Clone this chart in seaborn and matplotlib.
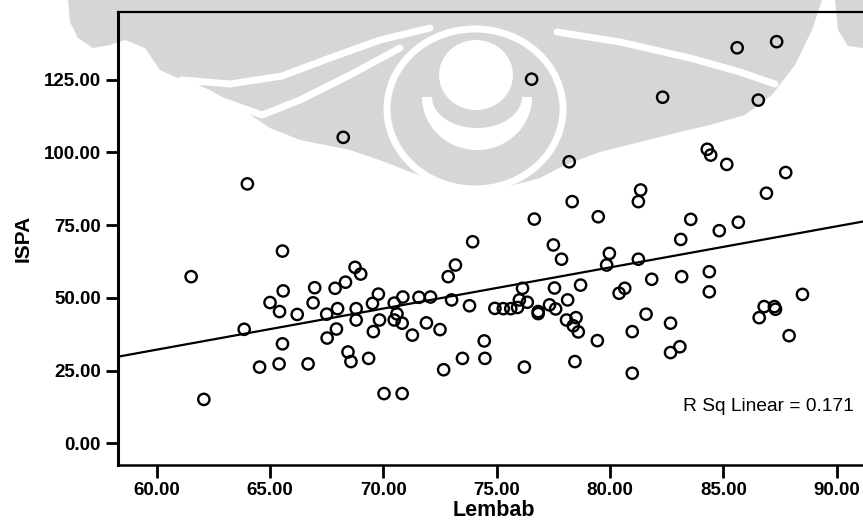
import numpy as np
import pandas as pd
import matplotlib
matplotlib.use("Agg")
import matplotlib.pyplot as plt
import seaborn as sns
from matplotlib.patches import Polygon, Ellipse

# ---------------- data ----------------
lembab = [
    64.0, 65.55, 76.54, 68.23, 78.2, 78.33, 76.66, 73.94, 77.5, 85.61,
    87.35, 82.32, 86.54, 84.29, 84.44, 85.15, 87.75, 86.9, 81.35, 81.25,
    79.48, 83.56, 85.66, 84.82, 83.12, 79.97, 79.85, 81.25, 78.7, 81.84,
    83.16, 84.38, 84.38, 80.65, 80.40, 81.59, 80.98, 82.67, 83.08, 82.67,
    80.98, 79.44, 78.45, 78.6, 78.5, 78.08, 78.38, 86.8, 87.25, 87.3,
    86.58, 88.49, 87.9,
    61.52, 63.86, 65.0, 65.58, 65.42, 66.2, 65.55, 65.4, 64.54, 62.08,
    66.97, 66.9, 66.68, 67.87, 68.33, 68.75, 69.0, 67.5, 67.98, 67.93,
    67.52, 68.8, 68.8, 68.44, 68.57, 69.35, 69.52, 69.78, 69.83, 69.56,
    70.03, 70.83, 70.48, 70.86, 70.6, 70.48, 70.83, 71.28, 71.57, 72.08,
    71.9, 72.5, 73.01, 73.18, 72.86, 73.8, 72.66, 73.49, 74.45, 74.48,
    74.92, 75.29, 75.62, 75.92, 76.0, 76.14, 76.35, 76.83, 76.83, 76.22,
    77.55, 77.33, 77.6, 78.13, 77.86,
]
ispa = [
    89.2, 66.1, 125.2, 105.2, 96.8, 83.1, 77.1, 69.3, 68.2, 136.0,
    138.1, 119.0, 118.0, 101.1, 99.1, 95.9, 93.1, 86.0, 87.1, 83.1,
    77.9, 77.0, 76.0, 73.1, 70.1, 65.3, 61.3, 63.3, 54.4, 56.4,
    57.3, 59.0, 52.1, 53.3, 51.6, 44.4, 38.4, 41.3, 33.2, 31.2,
    24.1, 35.3, 28.1, 38.3, 43.2, 42.4, 40.4, 47.0, 47.0, 46.1,
    43.2, 51.2, 37.0,
    57.3, 39.2, 48.4, 52.4, 45.3, 44.3, 34.2, 27.3, 26.2, 15.1,
    53.5, 48.3, 27.3, 53.3, 55.4, 60.5, 58.2, 44.4, 46.3, 39.3,
    36.2, 46.3, 42.4, 31.4, 28.1, 29.2, 48.1, 51.3, 42.4, 38.4,
    17.1, 17.1, 48.2, 50.3, 44.5, 42.4, 41.3, 37.2, 50.2, 50.3,
    41.4, 39.1, 49.3, 61.3, 57.3, 47.3, 25.3, 29.2, 35.2, 29.2,
    46.4, 46.3, 46.3, 46.7, 49.3, 53.3, 48.5, 45.3, 44.6, 26.2,
    53.4, 47.6, 46.2, 49.3, 63.3,
]
x_ticks = [60, 65, 70, 75, 80, 85, 90]
y_ticks = [0, 25, 50, 75, 100, 125]
x_label = "Lembab"
y_label = "ISPA"
r2_text = "R Sq Linear = 0.171"

df = pd.DataFrame({"Lembab": lembab, "ISPA": ispa})

# ---------------- figure ----------------
sns.set_theme(style="white")
plt.rcParams["font.family"] = ["Liberation Sans", "DejaVu Sans"]
plt.rcParams["text.color"] = "black"
plt.rcParams["axes.labelcolor"] = "black"
plt.rcParams["xtick.color"] = "black"
plt.rcParams["ytick.color"] = "black"

W, H = 863, 522
fig = plt.figure(figsize=(W / 100, H / 100), dpi=100)

# background watermark (decoration, in pixel coordinates)
wax = fig.add_axes([0, 0, 1, 1], zorder=0)
wax.set_xlim(0, W)
wax.set_ylim(H, 0)
wax.axis("off")
gray = "#d6d6d6"
body = [(68, 0), (822, 0), (812, 30), (795, 65), (772, 95), (745, 115),
        (710, 125), (680, 132), (640, 142), (600, 152), (565, 165),
        (540, 178), (510, 186), (478, 188), (445, 184), (410, 172),
        (385, 162), (350, 150), (300, 140), (270, 128), (240, 108),
        (210, 90), (182, 80), (160, 70), (145, 48), (125, 40), (110, 45),
        (93, 48), (78, 38), (70, 22)]
wax.add_patch(Polygon(body, closed=True, fc=gray, ec="none"))
wax.add_patch(Polygon([(835, 0), (863, 0), (863, 48), (848, 46), (838, 30)],
                      closed=True, fc=gray, ec="none"))
# white stripes
wax.plot([557, 620, 690, 740, 775], [32, 42, 58, 72, 84], color="white", lw=5,
         solid_capstyle="round")
wax.plot([430, 380, 330, 282, 230, 182], [28, 40, 58, 76, 84, 80], color="white",
         lw=5, solid_capstyle="round")
wax.plot([400, 350, 300, 262, 220, 182], [48, 75, 100, 115, 100, 80], color="white",
         lw=5, solid_capstyle="round")
# ring
wax.add_patch(Ellipse((475, 109), 176, 160, fc=gray, ec="white", lw=5))
wax.add_patch(Ellipse((476, 75), 74, 70, fc="white", ec="none"))
t = np.linspace(0, np.pi, 60)
outer = np.c_[477 + 55 * np.cos(t), 97 + 53 * np.sin(t)]
inner = np.c_[477 + 45 * np.cos(t[::-1]), 97 + 31 * np.sin(t[::-1])]
wax.add_patch(Polygon(np.vstack([outer, inner]), closed=True, fc="white", ec="none"))

# main axes
left_px, right_px, top_px, bottom_px = 117.7, 863, 12, 465
ax_h = bottom_px - top_px
ax = fig.add_axes([left_px / W, 1 - bottom_px / H,
                   (right_px - left_px) / W, ax_h / H], zorder=1)
ax.set_facecolor("none")
ax.set_xlim(58.28, 91.16)
ax.set_ylim(-7.46, 148.3)

sns.regplot(data=df, x="Lembab", y="ISPA", ax=ax, ci=None, truncate=False,
            scatter_kws=dict(s=66, facecolors="none", edgecolors="black",
                             linewidths=1.7, alpha=1, zorder=3),
            line_kws=dict(color="black", lw=1.6, zorder=2))
ax.set_xlim(58.28, 91.16)
ax.set_ylim(-7.46, 148.3)

ax.set_xticks(x_ticks)
ax.set_xticklabels([f"{v:.2f}" for v in x_ticks])
ax.set_yticks(y_ticks)
ax.set_yticklabels([f"{v:.2f}" for v in y_ticks])
ax.tick_params(axis="both", direction="out", length=9, width=2, color="black",
               labelcolor="black", labelsize=13.5, pad=3, bottom=True, left=True)
for lab in ax.get_xticklabels() + ax.get_yticklabels():
    lab.set_fontweight("bold")

for side in ["left", "bottom", "top"]:
    ax.spines[side].set_visible(True)
    ax.spines[side].set_color("black")
ax.spines["left"].set_linewidth(2.2)
ax.spines["bottom"].set_linewidth(1.8)
ax.spines["top"].set_linewidth(1.6)
ax.spines["right"].set_visible(False)

ax.set_xlabel(x_label, fontsize=15.5, fontweight="bold", color="black")
ax.xaxis.set_label_coords(0.505, 1 - (510 - top_px) / ax_h)
ax.xaxis.label.set_verticalalignment("center")
ax.set_ylabel(y_label, fontsize=15, fontweight="bold", labelpad=8, color="black")

ax.text(83.2, 12.8, r2_text, ha="left", va="center", fontsize=13.8, color="black")

fig.savefig("out.png", dpi=100)
